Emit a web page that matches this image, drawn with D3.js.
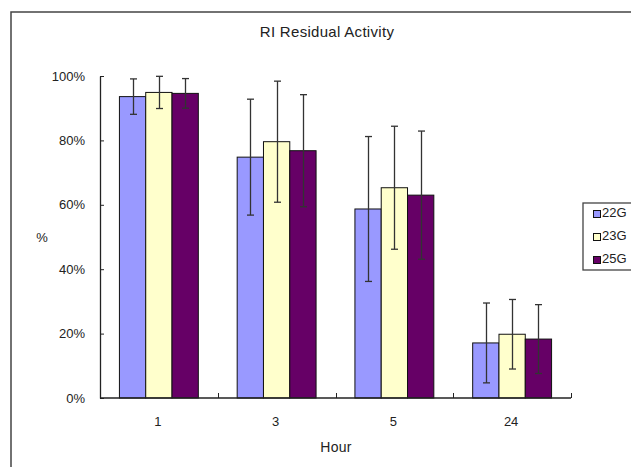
<!DOCTYPE html>
<html><head><meta charset="utf-8">
<script src="https://cdn.jsdelivr.net/npm/d3@7"></script>
<style>html,body{margin:0;padding:0;background:#fff;}svg{display:block;}</style>
</head><body>
<svg id="chart" width="631" height="467"></svg>
<script>
const categories = ["1", "3", "5", "24"];
const seriesNames = ["22G", "23G", "25G"];
const colors = ["#9999FF", "#FFFFCC", "#660066"];
const values22G = [93.6, 74.8, 58.7, 17.1];
const values23G = [94.9, 79.6, 65.3, 19.8];
const values25G = [94.6, 76.8, 63.0, 18.3];
const err22G = [5.5, 18.0, 22.5, 12.4];
const err23G = [5.0, 18.8, 19.1, 10.8];
const err25G = [4.6, 17.4, 19.9, 10.7];
const yTicks = [0, 20, 40, 60, 80, 100];
const title = "RI Residual Activity";
const xTitle = "Hour";
const yTitle = "%";

const seriesVals = [values22G, values23G, values25G];
const seriesErr = [err22G, err23G, err25G];

const svg = d3.select("#chart");
const font = "'Liberation Sans', Arial, sans-serif";

// outer frame
svg.append("rect").attr("x", 11).attr("y", 12).attr("width", 700).attr("height", 500)
  .attr("fill", "none").attr("stroke", "#444").attr("stroke-width", 1.5);

const pL = 100, pR = 571, pT = 76, pB = 398;
const x = d3.scaleBand().domain(categories).range([pL, pR]).paddingInner(0.33).paddingOuter(0.165);
const xs = d3.scaleBand().domain(seriesNames).range([0, x.bandwidth()]);
const y = d3.scaleLinear().domain([0, 100]).range([pB, pT]);

svg.append("text").attr("x", 327).attr("y", 33).attr("text-anchor", "middle")
  .attr("dominant-baseline", "middle").attr("font-family", font).attr("font-size", 15)
  .attr("letter-spacing", 0.3).attr("fill", "#222").text(title);

// bars
categories.forEach((c, i) => {
  seriesNames.forEach((s, j) => {
    const v = seriesVals[j][i];
    svg.append("rect")
      .attr("x", x(c) + xs(s)).attr("y", y(v))
      .attr("width", xs.bandwidth()).attr("height", y(0) - y(v))
      .attr("fill", colors[j]).attr("stroke", "#111").attr("stroke-width", 1);
  });
});
// error bars
categories.forEach((c, i) => {
  seriesNames.forEach((s, j) => {
    const v = seriesVals[j][i], e = seriesErr[j][i];
    const cx = Math.round(x(c) + xs(s) + xs.bandwidth() / 2) + 0.5;
    const g = svg.append("g").attr("stroke", "#333").attr("stroke-width", 1.3);
    g.append("line").attr("x1", cx).attr("x2", cx).attr("y1", y(v + e)).attr("y2", y(v - e));
    g.append("line").attr("x1", cx - 3.5).attr("x2", cx + 3.5).attr("y1", y(v + e)).attr("y2", y(v + e));
    g.append("line").attr("x1", cx - 3.5).attr("x2", cx + 3.5).attr("y1", y(v - e)).attr("y2", y(v - e));
  });
});

// y axis
const yAxis = d3.axisLeft(y).tickValues(yTicks).tickFormat(d => d + "%").tickSizeInner(-4).tickSizeOuter(0).tickPadding(15);
const ya = svg.append("g").attr("transform", `translate(${pL},0)`).call(yAxis);
ya.select(".domain").attr("stroke", "#222").attr("stroke-width", 1.3);
ya.selectAll(".tick line").attr("stroke", "#222");
ya.selectAll("text").attr("font-family", font).attr("font-size", 13).attr("fill", "#222");

// x axis
const xa = svg.append("g").attr("transform", `translate(0,${pB})`);
xa.append("line").attr("x1", pL).attr("x2", pR).attr("y1", 0).attr("y2", 0).attr("stroke", "#222").attr("stroke-width", 1.3);
const boundaries = categories.map(c => x(c) - (x.step() - x.bandwidth()) / 2).concat([pR]);
boundaries.forEach(b => {
  xa.append("line").attr("x1", Math.round(b) + 0.5).attr("x2", Math.round(b) + 0.5).attr("y1", 0).attr("y2", -5).attr("stroke", "#222");
});
categories.forEach(c => {
  xa.append("text").attr("x", x(c) + x.bandwidth() / 2 - 1).attr("y", 25).attr("text-anchor", "middle")
    .attr("dominant-baseline", "middle").attr("font-family", font).attr("font-size", 13).attr("fill", "#222").text(c);
});

svg.append("text").attr("x", 336).attr("y", 448).attr("text-anchor", "middle").attr("dominant-baseline", "middle")
  .attr("font-family", font).attr("font-size", 14).attr("letter-spacing", 0.3).attr("fill", "#222").text(xTitle);
svg.append("text").attr("x", 42).attr("y", 239).attr("text-anchor", "middle").attr("dominant-baseline", "middle")
  .attr("font-family", font).attr("font-size", 13).attr("fill", "#222").text(yTitle);

// legend
const lg = svg.append("g");
lg.append("rect").attr("x", 583).attr("y", 203).attr("width", 80).attr("height", 67)
  .attr("fill", "#fff").attr("stroke", "#444").attr("stroke-width", 1.3);
seriesNames.forEach((s, j) => {
  const cy = 214 + j * 23;
  lg.append("rect").attr("x", 593.5).attr("y", cy - 3.5).attr("width", 7).attr("height", 7)
    .attr("fill", colors[j]).attr("stroke", "#111").attr("stroke-width", 1);
  lg.append("text").attr("x", 602).attr("y", cy).attr("dominant-baseline", "middle")
    .attr("font-family", font).attr("font-size", 13).attr("fill", "#222").text(s);
});
</script>
</body></html>
